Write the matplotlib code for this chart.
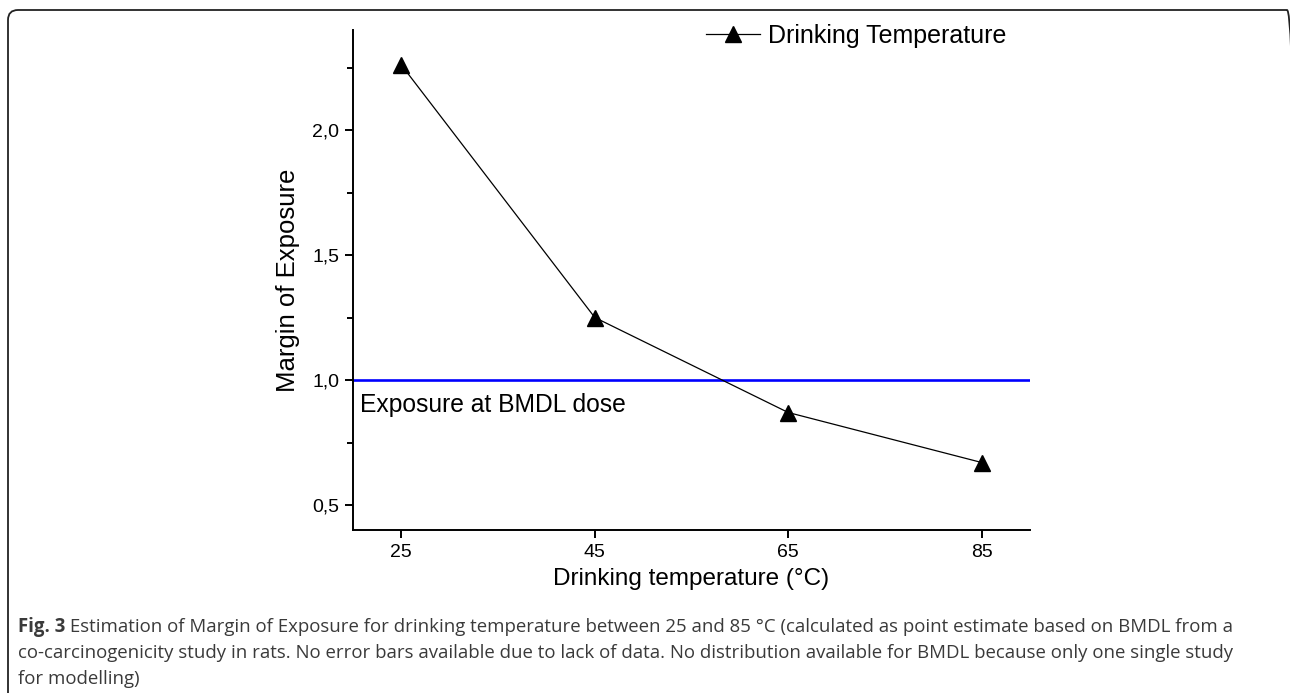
import matplotlib
matplotlib.use("Agg")
import matplotlib.pyplot as plt
from matplotlib.patches import FancyBboxPatch
from matplotlib.ticker import MultipleLocator, FuncFormatter

# Data
temperatures = [25, 45, 65, 85]
margin_of_exposure = [2.26, 1.25, 0.87, 0.67]
bmdl_level = 1.0
x_ticks = [25, 45, 65, 85]
y_ticks = [0.5, 1.0, 1.5, 2.0]

series_label = "Drinking Temperature"
ref_label = "Exposure at BMDL dose"
xlabel = "Drinking temperature (°C)"
ylabel = "Margin of Exposure"
caption_bold = "Fig. 3"
caption_line1 = " Estimation of Margin of Exposure for drinking temperature between 25 and 85 °C (calculated as point estimate based on BMDL from a"
caption_line2 = "co-carcinogenicity study in rats. No error bars available due to lack of data. No distribution available for BMDL because only one single study"
caption_line3 = "for modelling)"

plt.rcParams['font.family'] = ['Liberation Sans', 'DejaVu Sans']

W, H = 1290, 693
fig = plt.figure(figsize=(W / 100, H / 100), dpi=100)

# Outer rounded frame
frame = FancyBboxPatch((8, -20), 1289, H - 10 + 20,
                       boxstyle="round,pad=0,rounding_size=10",
                       transform=None, fill=False, edgecolor='#222222', linewidth=1.3)
fig.add_artist(frame)

ax = fig.add_axes([353 / W, 1 - 530 / H, (1030 - 353) / W, (530 - 30) / H])
ax.set_facecolor('none')

ax.plot(temperatures, margin_of_exposure, color='black', linewidth=0.9,
        marker='^', markersize=11, markerfacecolor='black', markeredgecolor='black',
        label=series_label, zorder=3)
ax.axhline(bmdl_level, color='#0000ff', linewidth=1.9, zorder=2)
ax.text(20.7, 0.872, ref_label, fontsize=17.7, va='baseline', ha='left')

ax.set_xlim(20, 90)
ax.set_ylim(0.4, 2.4)
ax.set_xticks(x_ticks)
ax.set_yticks(y_ticks)
ax.yaxis.set_minor_locator(MultipleLocator(0.25))
ax.yaxis.set_major_formatter(FuncFormatter(lambda v, p: f"{v:.1f}".replace('.', ',')))

for side in ['top', 'right']:
    ax.spines[side].set_visible(False)
for side in ['left', 'bottom']:
    ax.spines[side].set_linewidth(1.4)

ax.tick_params(axis='both', which='major', direction='out', length=6, width=1.4,
               labelsize=14, pad=4)
ax.tick_params(axis='y', which='minor', direction='out', length=4, width=1.4)

ax.set_xlabel(xlabel, fontsize=17.5, labelpad=5)
ax.set_ylabel(ylabel, fontsize=18.5, labelpad=9)

leg = ax.legend(loc='center left', bbox_to_anchor=(706 / W, 1 - 36 / H),
                bbox_transform=fig.transFigure, frameon=False, fontsize=18,
                handlelength=2.16, handletextpad=0.32, borderaxespad=0, borderpad=0)

# Caption
cap_kw = dict(fontfamily=['Open Sans', 'DejaVu Sans'], fontsize=13.45, color='#3a3a3a', ha='left')
tb = fig.text(18 / W, 1 - 632 / H, caption_bold, fontweight='bold', va='baseline', **cap_kw)
fig.canvas.draw()
bb = tb.get_window_extent()
fig.text((bb.x1) / W, 1 - 632 / H, caption_line1, va='baseline', **cap_kw)
fig.text(18 / W, 1 - 658 / H, caption_line2, va='baseline', **cap_kw)
fig.text(18 / W, 1 - 684 / H, caption_line3, va='baseline', **cap_kw)

fig.savefig("out.png", dpi=100)
